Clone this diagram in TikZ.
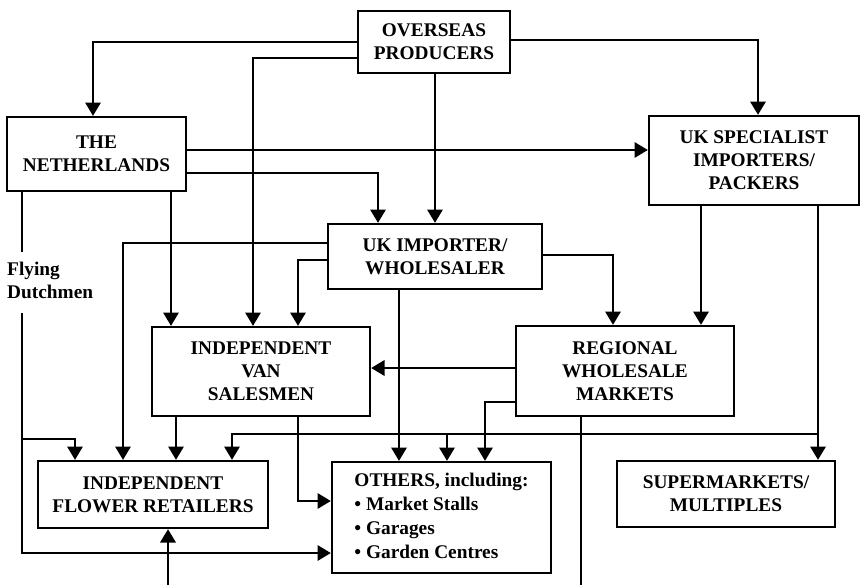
\documentclass[tikz,border=0pt]{standalone}
\usepackage{fontspec}
\setmainfont{Liberation Serif}
\usepackage{tikz}
\usetikzlibrary{arrows.meta}
\tikzset{box/.style={draw, line width=0.7mm, inner sep=0pt, align=center,
                font=\bfseries\fontsize{16.5}{19.5}\selectfont},
        flow/.style={line width=0.7mm, -{Triangle[length=4mm,width=4.6mm]}},
        plain/.style={line width=0.7mm}}

\begin{document}
\begin{tikzpicture}[x=0.3mm, y=-0.3mm]
  \useasboundingbox (0,0) rectangle (864,585);
  % the boxes
  \node[box, minimum width=45.6mm, minimum height=18.6mm] (op) at (434,42) {OVERSEAS\\PRODUCERS};
  \node[box, minimum width=53.7mm, minimum height=22.2mm] (nl) at (96.5,154) {THE\\NETHERLANDS};
  \node[box, minimum width=63mm, minimum height=26.7mm] (uks) at (754,160.5) {UK SPECIALIST\\IMPORTERS/\\PACKERS};
  \node[box, minimum width=64.2mm, minimum height=19.5mm] (uki) at (435,256.5) {UK IMPORTER/\\WHOLESALER};
  \node[box, minimum width=65.4mm, minimum height=26.7mm] (vs) at (261,371.5) {INDEPENDENT\\VAN\\SALESMEN};
  \node[box, minimum width=65.4mm, minimum height=27mm] (rwm) at (625,371) {REGIONAL\\WHOLESALE\\MARKETS};
  \node[box, minimum width=69mm, minimum height=20.1mm] (ifr) at (153,494.5) {INDEPENDENT\\FLOWER RETAILERS};
  \node[box, minimum width=65.7mm, minimum height=33.3mm,
        font=\bfseries\fontsize{16.5}{20.5}\selectfont] (oth) at (441.5,517.5)
        {\begin{tabular}{@{}l@{}}OTHERS, including:\\\textbullet\ Market Stalls\\\textbullet\ Garages\\\textbullet\ Garden Centres\end{tabular}};
  \node[box, minimum width=65.4mm, minimum height=19.8mm] (sm) at (726,494) {SUPERMARKETS/\\MULTIPLES};
  \node[anchor=north west, align=left, inner sep=0pt,
        font=\bfseries\fontsize{16.5}{19.5}\selectfont] (fd) at (7,262) {Flying\\Dutchmen};

  \coordinate (fdtop) at (22,252);
  \coordinate (fdbot) at (22,313);
  \coordinate (fdbranch) at (22,439);
  \coordinate (uksbranch) at (818,434);
  \coordinate (othbranch) at (447,434);
  \coordinate (rwmout) at (581,585);
  \coordinate (ifrin) at (168,585);

  % from the producers
  \draw[flow] (op.west |- 0,42) -| (93,0 |- nl.north);
  \draw[flow] (op.west |- 0,58) -| (253,0 |- vs.north);
  \draw[flow] (op.east |- 0,40) -| (758,0 |- uks.north);
  \draw[flow] (435,0 |- op.south) -- (435,0 |- uki.north);
  % from the netherlands
  \draw[flow] (nl.east |- 0,150) -- (uks.west |- 0,150);
  \draw[flow] (nl.east |- 0,173) -| (378,0 |- uki.north);
  \draw[flow] (171,0 |- nl.south) -- (171,0 |- vs.north);
  \draw[plain] (22,0 |- nl.south) -- (fdtop);
  \draw[flow] (fdbot) |- (oth.west |- 0,553);
  \draw[flow] (fdbranch) -| (75,0 |- ifr.north);
  % from the uk importer
  \draw[flow] (uki.west |- 0,243) -| (123,0 |- ifr.north);
  \draw[flow] (uki.west |- 0,260) -| (298,0 |- vs.north);
  \draw[flow] (uki.east |- 0,255) -| (613,0 |- rwm.north);
  \draw[flow] (399,0 |- uki.south) -- (399,0 |- oth.north);
  % from the specialists
  \draw[flow] (701,0 |- uks.south) -- (701,0 |- rwm.north);
  \draw[flow] (818,0 |- uks.south) -- (818,0 |- sm.north);
  \draw[flow] (uksbranch) -| (232,0 |- ifr.north);
  \draw[flow] (othbranch) -- (447,0 |- oth.north);
  % from the regional markets
  \draw[flow] (rwm.west |- 0,368) -- (vs.east |- 0,368);
  \draw[flow] (rwm.west |- 0,402) -| (485,0 |- oth.north);
  \draw[plain] (581,0 |- rwm.south) -- (rwmout);
  % from the van salesmen
  \draw[flow] (176,0 |- vs.south) -- (176,0 |- ifr.north);
  \draw[flow] (298,0 |- vs.south) |- (oth.west |- 0,501);
  \draw[flow] (ifrin) -- (168,0 |- ifr.south);
\end{tikzpicture}
\end{document}
